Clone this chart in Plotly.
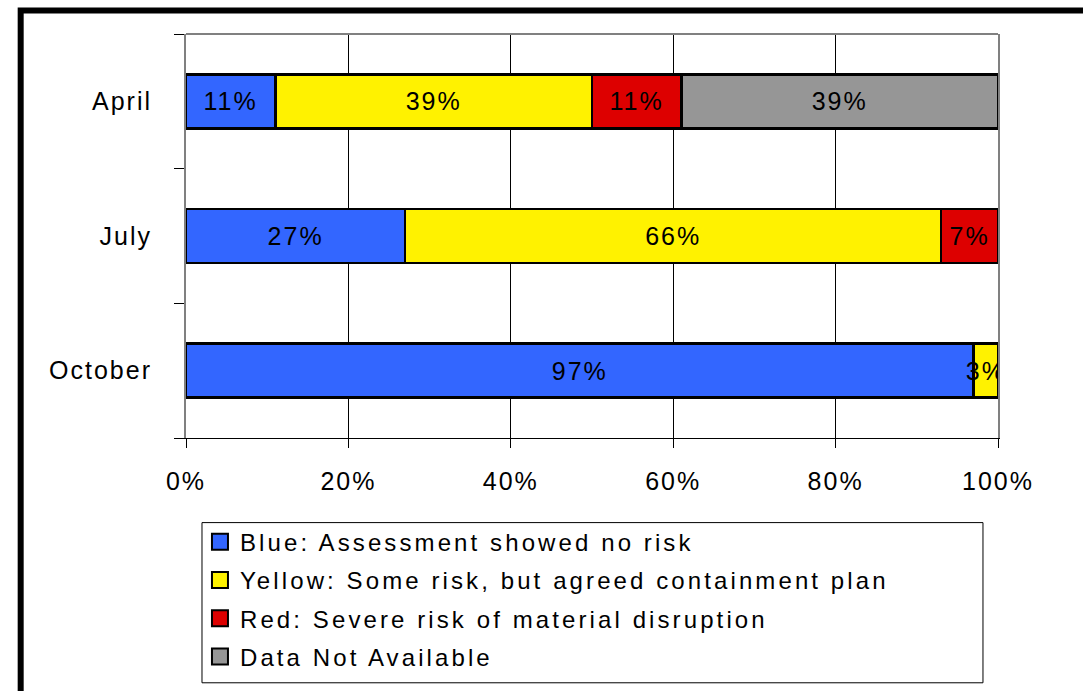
import plotly.graph_objects as go

months = ["April", "July", "October"]
blue_vals = [11, 27, 97]
yellow_vals = [39, 66, 3]
red_vals = [11, 7, None]
grey_vals = [39, None, None]

series_names = [
    "Blue: Assessment showed no risk",
    "Yellow: Some risk, but agreed containment plan",
    "Red: Severe risk of material disruption",
    "Data Not Available",
]
series_values = [blue_vals, yellow_vals, red_vals, grey_vals]
series_colors = ["#3366FF", "#FFF200", "#DD0000", "#969696"]

x_ticks = [0, 20, 40, 60, 80, 100]
x_tick_labels = ["0%", "20%", "40%", "60%", "80%", "100%"]

FONT = "Liberation Sans, Arial, sans-serif"
FS = 25

fig = go.Figure()
for i, (name, vals, col) in enumerate(zip(series_names, series_values, series_colors)):
    fig.add_trace(go.Bar(
        y=months, x=vals, name=name, orientation="h",
        marker=dict(color=col, line=dict(color="black", width=2.5)),
        text=[f"{v}%" if v is not None else "" for v in vals],
        textposition="inside", insidetextanchor="middle", textangle=0,
        constraintext="none",
        insidetextfont=dict(family=FONT, size=FS, color="black"),
        legendgroup=f"g{i}",
    ))

fig.update_layout(
    width=1083, height=691,
    barmode="stack", bargap=0.6,
    plot_bgcolor="white", paper_bgcolor="white",
    margin=dict(l=186, r=85, t=34, b=251),
    font=dict(family=FONT, size=FS, color="black"),
    legend=dict(
        x=0.0172, xanchor="left", y=-0.2024, yanchor="top",
        traceorder="grouped", bgcolor="rgba(0,0,0,0)", borderwidth=0,
        font=dict(family=FONT, size=24, color="black"),
        tracegroupgap=4,
    ),
    showlegend=True,
)

fig.update_xaxes(
    range=[0, 100], tickvals=x_ticks, ticktext=x_tick_labels,
    showgrid=True, gridcolor="black", gridwidth=1, zeroline=False,
    showline=True, linecolor="black", linewidth=1,
    ticks="outside", ticklen=9, tickcolor="black", tickwidth=1,
    ticklabelstandoff=12, fixedrange=True,
)
fig.update_yaxes(
    categoryorder="array", categoryarray=months[::-1],
    range=[-0.5, 2.5], tickson="boundaries",
    showline=True, linecolor="#808080", linewidth=2, mirror=True,
    ticks="outside", ticklen=10, tickcolor="black", tickwidth=1,
    showgrid=False, ticklabelstandoff=27, fixedrange=True,
)

# top border of plot area (grey)
fig.add_shape(type="line", xref="paper", yref="paper", x0=0, x1=1, y0=1, y1=1,
              line=dict(color="#808080", width=2))
# legend box
fig.add_shape(type="rect", xref="paper", yref="paper",
              x0=0.0197, x1=0.9815, y0=-0.2094, y1=-0.6059,
              line=dict(color="black", width=1))
# outer chart border
fig.add_shape(type="rect", xref="paper", yref="paper",
              x0=-0.2036, x1=1.12, y0=1.058, y1=-0.66,
              line=dict(color="black", width=6))

# Excel-style letter spacing of the rendered text, larger legend swatches
post = """
var gd = document.getElementById('{plot_id}');
gd.querySelectorAll('text').forEach(function(t){
  var inLegend = t.closest('.legend') !== null;
  t.style.letterSpacing = inLegend ? '3.1px' : '2px';
});
gd.querySelectorAll('.legend [clip-path]').forEach(function(g){
  g.removeAttribute('clip-path');
});
gd.querySelectorAll('.legend .legendpoints path').forEach(function(p){
  p.setAttribute('d', 'M8,8H-8V-8H8Z');
  p.style.strokeWidth = '2px';
});
"""

fig.write_html("out.html", post_script=post)
